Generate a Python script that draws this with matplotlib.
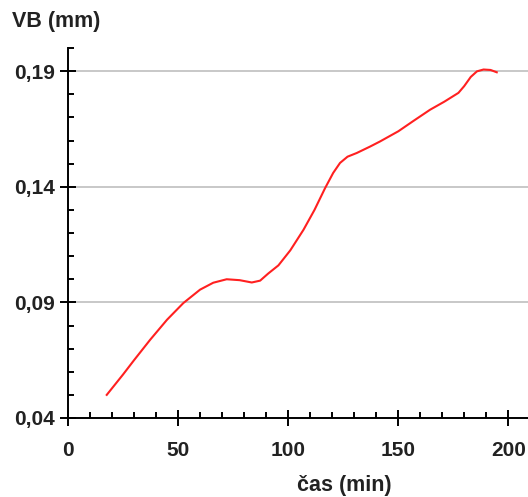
import matplotlib
matplotlib.use('Agg')
import matplotlib.pyplot as plt
from matplotlib.ticker import MultipleLocator, FixedLocator

plt.rcParams['font.family'] = ['Liberation Sans', 'DejaVu Sans']

# odectené hodnoty z grafu
cas = [17.6, 25, 30, 37.3, 45, 52.4, 60, 66, 72.1, 78, 83.5, 87.3, 91, 95.6,
       101, 107, 112, 116.8, 120.5, 123.6, 127, 131.2, 137.3, 141.8, 150.1,
       157, 164.5, 171, 177.4, 180, 183, 185.8, 188.8, 192, 194.8]
vb = [0.0500, 0.0588, 0.0650, 0.0738, 0.0825, 0.0897, 0.0955, 0.0985, 0.1000,
      0.0996, 0.0986, 0.0994, 0.1025, 0.1060, 0.1125, 0.1214, 0.1300, 0.1394,
      0.1460, 0.1503, 0.1530, 0.1546, 0.1574, 0.1596, 0.1640, 0.1685, 0.1733,
      0.1768, 0.1806, 0.1835, 0.1875, 0.1899, 0.1907, 0.1905, 0.1895]

yticks = [0.04, 0.09, 0.14, 0.19]
ylabels = ['0,04', '0,09', '0,14', '0,19']
xticks = [0, 50, 100, 150, 200]

fig = plt.figure(figsize=(5.28, 4.97), dpi=100)
ax = fig.add_axes([68/528, 1-418/497, 1-68/528, (418-48)/497])

for y in yticks[1:]:
    ax.axhline(y, color='#c4c4c4', lw=1.3, zorder=1)

ax.plot(cas, vb, color='#ff2020', lw=1.5, zorder=3)

ax.set_xlim(0, 209)
ax.set_ylim(0.04, 0.20)
ax.spines['top'].set_visible(False)
ax.spines['right'].set_visible(False)
for s in ['left', 'bottom']:
    ax.spines[s].set_linewidth(1.4)

ax.xaxis.set_major_locator(FixedLocator(xticks))
ax.xaxis.set_minor_locator(MultipleLocator(10))
ax.yaxis.set_major_locator(FixedLocator(yticks))
ax.yaxis.set_minor_locator(MultipleLocator(0.01))
ax.set_yticklabels(ylabels)
ax.set_xticklabels([str(x) for x in xticks])

ax.tick_params(which='major', direction='inout', length=11, width=1.4,
               labelsize=15)
ax.tick_params(axis='y', which='major', pad=4)
ax.tick_params(axis='x', which='major', pad=11)
ax.tick_params(which='minor', direction='in', length=4, width=1.4)
for lab in ax.get_xticklabels() + ax.get_yticklabels():
    lab.set_fontweight('bold')
    lab.set_color('#222222')

fig.text(12/528, 1-22/497, 'VB (mm)', fontsize=15.5, fontweight='bold',
         color='#222222', va='center', ha='left')
fig.text(344/528, 1-486/497, 'čas (min)', fontsize=15.5, fontweight='bold',
         color='#222222', va='center', ha='center')

fig.savefig('out.png', dpi=100)
